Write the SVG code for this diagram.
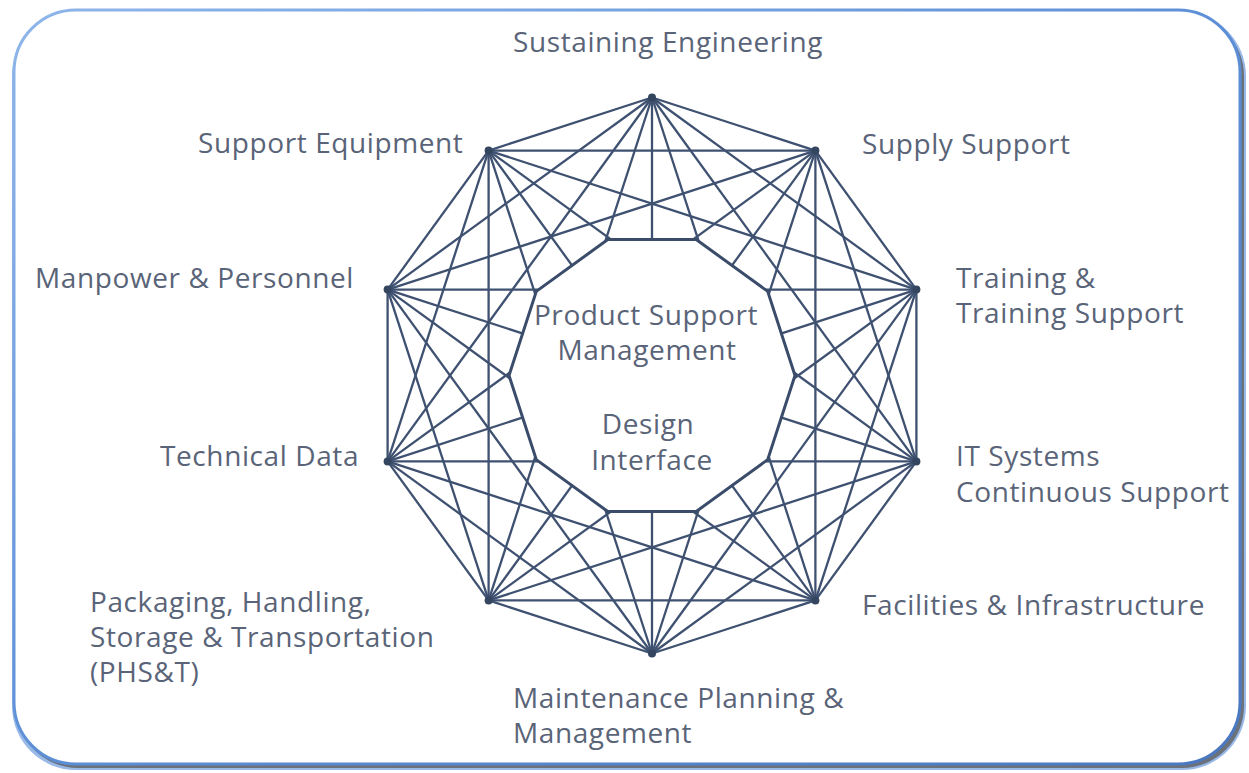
<svg xmlns="http://www.w3.org/2000/svg" width="1249" height="773" viewBox="0 0 1249 773">
<defs>
<linearGradient id="frameGrad" x1="0" y1="0" x2="1" y2="1">
<stop offset="0" stop-color="#8fb6ea"/>
<stop offset="0.5" stop-color="#5d8fd6"/>
<stop offset="1" stop-color="#4a78c0"/>
</linearGradient>
</defs>
<style>
.lbl{font-family:"Open Sans","Noto Sans","Liberation Sans",sans-serif;font-size:28px;letter-spacing:0.6px;fill:#5a6478;}
.edge{stroke:#3f5170;stroke-width:2.3;fill:none;}
.dot{fill:#34465f;}
.inner{fill:#ffffff;stroke:#3a4c6a;stroke-width:3;}
</style>
<rect x="0" y="0" width="1249" height="773" fill="#ffffff"/>
<g id="frame">
<rect x="12" y="12" width="1234" height="758" rx="64" fill="#7fa8e4" opacity="0.8"/>
<rect x="16" y="14" width="1228" height="754" rx="62" fill="#6b727c"/>
<rect x="14" y="10" width="1226" height="754" rx="62" fill="#ffffff" stroke="url(#frameGrad)" stroke-width="3"/>
</g>
<g id="connectors">
<line class="edge" x1="652" y1="97.5" x2="815.4" y2="150.6"/>
<line class="edge" x1="652" y1="97.5" x2="916.4" y2="289.6"/>
<line class="edge" x1="652" y1="97.5" x2="916.4" y2="461.4"/>
<line class="edge" x1="652" y1="97.5" x2="815.4" y2="600.4"/>
<line class="edge" x1="652" y1="97.5" x2="652" y2="653.5"/>
<line class="edge" x1="652" y1="97.5" x2="488.6" y2="600.4"/>
<line class="edge" x1="652" y1="97.5" x2="387.6" y2="461.4"/>
<line class="edge" x1="652" y1="97.5" x2="387.6" y2="289.6"/>
<line class="edge" x1="652" y1="97.5" x2="488.6" y2="150.6"/>
<line class="edge" x1="815.4" y1="150.6" x2="916.4" y2="289.6"/>
<line class="edge" x1="815.4" y1="150.6" x2="916.4" y2="461.4"/>
<line class="edge" x1="815.4" y1="150.6" x2="815.4" y2="600.4"/>
<line class="edge" x1="815.4" y1="150.6" x2="652" y2="653.5"/>
<line class="edge" x1="815.4" y1="150.6" x2="488.6" y2="600.4"/>
<line class="edge" x1="815.4" y1="150.6" x2="387.6" y2="461.4"/>
<line class="edge" x1="815.4" y1="150.6" x2="387.6" y2="289.6"/>
<line class="edge" x1="815.4" y1="150.6" x2="488.6" y2="150.6"/>
<line class="edge" x1="916.4" y1="289.6" x2="916.4" y2="461.4"/>
<line class="edge" x1="916.4" y1="289.6" x2="815.4" y2="600.4"/>
<line class="edge" x1="916.4" y1="289.6" x2="652" y2="653.5"/>
<line class="edge" x1="916.4" y1="289.6" x2="488.6" y2="600.4"/>
<line class="edge" x1="916.4" y1="289.6" x2="387.6" y2="461.4"/>
<line class="edge" x1="916.4" y1="289.6" x2="387.6" y2="289.6"/>
<line class="edge" x1="916.4" y1="289.6" x2="488.6" y2="150.6"/>
<line class="edge" x1="916.4" y1="461.4" x2="815.4" y2="600.4"/>
<line class="edge" x1="916.4" y1="461.4" x2="652" y2="653.5"/>
<line class="edge" x1="916.4" y1="461.4" x2="488.6" y2="600.4"/>
<line class="edge" x1="916.4" y1="461.4" x2="387.6" y2="461.4"/>
<line class="edge" x1="916.4" y1="461.4" x2="387.6" y2="289.6"/>
<line class="edge" x1="916.4" y1="461.4" x2="488.6" y2="150.6"/>
<line class="edge" x1="815.4" y1="600.4" x2="652" y2="653.5"/>
<line class="edge" x1="815.4" y1="600.4" x2="488.6" y2="600.4"/>
<line class="edge" x1="815.4" y1="600.4" x2="387.6" y2="461.4"/>
<line class="edge" x1="815.4" y1="600.4" x2="387.6" y2="289.6"/>
<line class="edge" x1="815.4" y1="600.4" x2="488.6" y2="150.6"/>
<line class="edge" x1="652" y1="653.5" x2="488.6" y2="600.4"/>
<line class="edge" x1="652" y1="653.5" x2="387.6" y2="461.4"/>
<line class="edge" x1="652" y1="653.5" x2="387.6" y2="289.6"/>
<line class="edge" x1="652" y1="653.5" x2="488.6" y2="150.6"/>
<line class="edge" x1="488.6" y1="600.4" x2="387.6" y2="461.4"/>
<line class="edge" x1="488.6" y1="600.4" x2="387.6" y2="289.6"/>
<line class="edge" x1="488.6" y1="600.4" x2="488.6" y2="150.6"/>
<line class="edge" x1="387.6" y1="461.4" x2="387.6" y2="289.6"/>
<line class="edge" x1="387.6" y1="461.4" x2="488.6" y2="150.6"/>
<line class="edge" x1="387.6" y1="289.6" x2="488.6" y2="150.6"/>
</g>
<g id="center">
<polygon class="inner" points="696.2,239.5 767.7,291.4 795,375.5 767.7,459.6 696.2,511.5 607.8,511.5 536.3,459.6 509,375.5 536.3,291.4 607.8,239.5"/>
<text class="lbl" x="646" y="325" text-anchor="middle">Product Support</text>
<text class="lbl" x="647" y="360" text-anchor="middle">Management</text>
<text class="lbl" x="648" y="434" text-anchor="middle">Design</text>
<text class="lbl" x="652" y="470" text-anchor="middle">Interface</text>
</g>
<g id="node-sustaining-engineering">
<circle class="dot" cx="652" cy="97.5" r="4"/>
<text class="lbl" x="513" y="52">Sustaining Engineering</text>
</g>
<g id="node-supply-support">
<circle class="dot" cx="815.4" cy="150.6" r="4"/>
<text class="lbl" x="862" y="154">Supply Support</text>
</g>
<g id="node-training">
<circle class="dot" cx="916.4" cy="289.6" r="4"/>
<text class="lbl" x="956" y="288">Training &amp;</text>
<text class="lbl" x="956" y="323">Training Support</text>
</g>
<g id="node-it-systems">
<circle class="dot" cx="916.4" cy="461.4" r="4"/>
<text class="lbl" x="956" y="466">IT Systems</text>
<text class="lbl" x="956" y="502">Continuous Support</text>
</g>
<g id="node-facilities">
<circle class="dot" cx="815.4" cy="600.4" r="4"/>
<text class="lbl" x="862" y="615">Facilities &amp; Infrastructure</text>
</g>
<g id="node-maintenance">
<circle class="dot" cx="652" cy="653.5" r="4"/>
<text class="lbl" x="513" y="708">Maintenance Planning &amp;</text>
<text class="lbl" x="513" y="743">Management</text>
</g>
<g id="node-phst">
<circle class="dot" cx="488.6" cy="600.4" r="4"/>
<text class="lbl" x="90" y="612">Packaging, Handling,</text>
<text class="lbl" x="90" y="647">Storage &amp; Transportation</text>
<text class="lbl" x="90" y="682">(PHS&amp;T)</text>
</g>
<g id="node-technical-data">
<circle class="dot" cx="387.6" cy="461.4" r="4"/>
<text class="lbl" x="160" y="466">Technical Data</text>
</g>
<g id="node-manpower">
<circle class="dot" cx="387.6" cy="289.6" r="4"/>
<text class="lbl" x="35" y="288">Manpower &amp; Personnel</text>
</g>
<g id="node-support-equipment">
<circle class="dot" cx="488.6" cy="150.6" r="4"/>
<text class="lbl" x="198" y="153">Support Equipment</text>
</g>
</svg>
